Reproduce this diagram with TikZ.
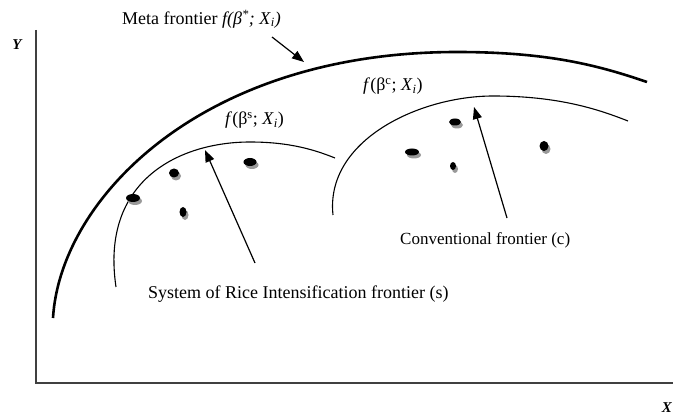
\documentclass[tikz,border=0pt]{standalone}
\usepackage{fontspec}
\setmainfont{Liberation Serif}
\usetikzlibrary{arrows.meta,shapes.geometric,shadows}

\begin{document}
\begin{tikzpicture}[x=1pt,y=-1pt,
        seed/.style={ellipse,fill=black,inner sep=0pt,
            drop shadow={shadow xshift=2pt,shadow yshift=-3pt,fill=black!40,opacity=1}},
        frontier/.style={line width=1.1pt},
        pointer/.style={line width=1.2pt,-{Triangle[length=12pt,width=9pt]}},
        lbl/.style={inner sep=0pt,font=\fontsize{18}{20}\selectfont}]
    \useasboundingbox (0,0) rectangle (673,417);

    % Axes
    \coordinate (O) at (36,383);
    \coordinate (ytop) at (36,30);
    \coordinate (xend) at (673,383);
    \draw[line width=1.3pt,black!75] (ytop) -- (O) -- (xend);
    \node[lbl,font=\fontsize{15}{17}\selectfont\bfseries\itshape] (ylab) at (17,45) {Y};
    \node[lbl,font=\fontsize{15}{17}\selectfont\bfseries\itshape,anchor=east] (xlab) at (672,408) {X};

    % Meta frontier
    \draw[line width=2.6pt] (53,318) .. controls (60,200) and (200,52) .. (457,52)
        .. controls (550,52) and (600,66) .. (647,82);

    % SRI frontier
    \draw[frontier] (116,287) .. controls (100,180) and (180,142) .. (250,142)
        .. controls (290,142) and (315,150) .. (335,158);

    % Conventional frontier
    \draw[frontier] (333,215) .. controls (325,140) and (420,96) .. (493,96)
        .. controls (560,96) and (600,110) .. (628,121);

    % Farms under SRI
    \node[seed,minimum width=14pt,minimum height=8pt] (s1) at (133,198) {};
    \node[seed,minimum width=10pt,minimum height=9pt] (s2) at (174,173) {};
    \node[seed,minimum width=7pt,minimum height=10pt] (s3) at (183,212) {};
    \node[seed,minimum width=13pt,minimum height=8pt] (s4) at (250,162) {};

    % Conventional farms
    \node[seed,minimum width=14pt,minimum height=7pt] (c1) at (412,152) {};
    \node[seed,minimum width=12pt,minimum height=7pt] (c2) at (455,122) {};
    \node[seed,minimum width=6pt,minimum height=8pt] (c3) at (453,166) {};
    \node[seed,minimum width=9pt,minimum height=10pt] (c4) at (544,146) {};

    % Labels
    \node[lbl,anchor=west] (meta) at (122,19)
        {Meta frontier \textit{f(β\textsuperscript{*}; X}\textsubscript{\textit{i}}\textit{)}};
    \node[lbl,anchor=west] (fs) at (225,120)
        {\textit{f}(β\textsuperscript{s}; \textit{X}\textsubscript{\textit{i}})};
    \node[lbl,anchor=west] (fc) at (363,86)
        {\textit{f}(β\textsuperscript{c}; \textit{X}\textsubscript{\textit{i}})};
    \node[lbl,anchor=west,font=\fontsize{17}{19}\selectfont] (conv) at (400,240)
        {Conventional frontier (c)};
    \node[lbl,anchor=west] (sri) at (148,294)
        {System of Rice Intensification frontier (s)};

    % Arrows
    \coordinate (mTail) at (272,37);
    \coordinate (mTip) at (304,62);
    \coordinate (sTail) at (255,263);
    \coordinate (sTip) at (205,150);
    \coordinate (cTail) at (507,218);
    \coordinate (cTip) at (474,107);
    \draw[pointer] (mTail) -- (mTip);
    \draw[pointer] (sTail) -- (sTip);
    \draw[pointer] (cTail) -- (cTip);
\end{tikzpicture}
\end{document}
